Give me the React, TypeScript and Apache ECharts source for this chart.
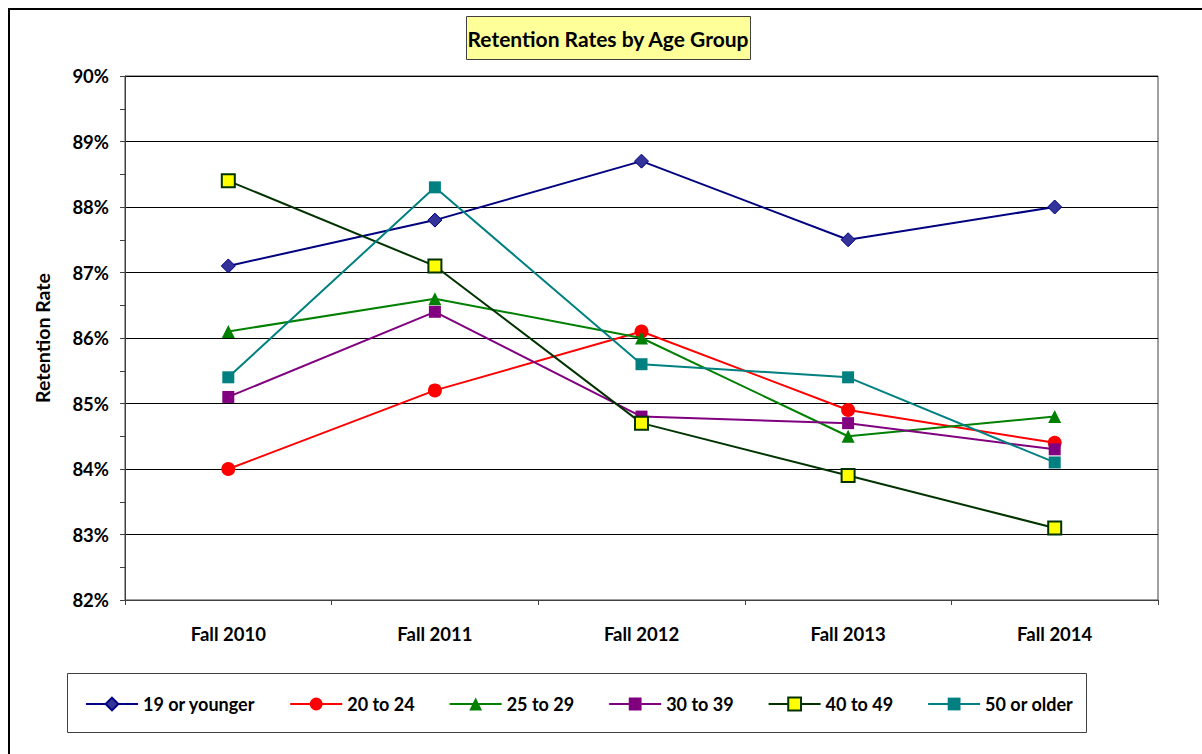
import React, { useEffect, useRef } from "react";
import * as echarts from "echarts";

const categories = ["Fall 2010", "Fall 2011", "Fall 2012", "Fall 2013", "Fall 2014"];
const seriesNames = ["19 or younger", "20 to 24", "25 to 29", "30 to 39", "40 to 49", "50 or older"];
const age19OrYounger = [87.1, 87.8, 88.7, 87.5, 88.0];
const age20to24 = [84.0, 85.2, 86.1, 84.9, 84.4];
const age25to29 = [86.1, 86.6, 86.0, 84.5, 84.8];
const age30to39 = [85.1, 86.4, 84.8, 84.7, 84.3];
const age40to49 = [88.4, 87.1, 84.7, 83.9, 83.1];
const age50OrOlder = [85.4, 88.3, 85.6, 85.4, 84.1];
const yTicks = { min: 82, max: 90, interval: 1 };

const FONT = "Lato, 'Open Sans', sans-serif";

export default function App() {
  const ref = useRef<HTMLDivElement>(null);
  useEffect(() => {
    if (!ref.current) return;
    const chart = echarts.init(ref.current, undefined, { renderer: "svg" });
    const styles = [
      { data: age19OrYounger, line: "#000080", symbol: "diamond", size: 14, fill: "#333399", border: "#000080", bw: 1 },
      { data: age20to24, line: "#ff0000", symbol: "circle", size: 14, fill: "#ff0000", border: "#ff0000", bw: 0 },
      { data: age25to29, line: "#008000", symbol: "triangle", size: 13, fill: "#008000", border: "#008000", bw: 0 },
      { data: age30to39, line: "#800080", symbol: "rect", size: 12, fill: "#800080", border: "#800080", bw: 0 },
      { data: age40to49, line: "#003300", symbol: "rect", size: 13, fill: "#ffff00", border: "#003300", bw: 2 },
      { data: age50OrOlder, line: "#008080", symbol: "rect", size: 12, fill: "#008080", border: "#008080", bw: 0 },
    ];
    chart.setOption({
      animation: false,
      backgroundColor: "#ffffff",
      textStyle: { fontFamily: FONT },
      graphic: [
        {
          type: "rect",
          shape: { x: 9, y: 9, width: 1300, height: 900 },
          style: { fill: "none", stroke: "#000", lineWidth: 2 },
          silent: true,
        },
        {
          type: "rect",
          shape: { x: 466.5, y: 16.5, width: 284, height: 43 },
          style: { fill: "#ffff99", stroke: "#404040", lineWidth: 1 },
          silent: true,
        },
        {
          type: "text",
          x: 608,
          y: 38,
          style: {
            text: "Retention Rates by Age Group",
            fill: "#000",
            font: `bold 21px ${FONT}`,
            align: "center",
            verticalAlign: "middle",
          },
          silent: true,
        },
        {
          type: "rect",
          shape: { x: 67.5, y: 673.5, width: 1019, height: 59 },
          style: { fill: "#fff", stroke: "#404040", lineWidth: 1 },
          silent: true,
          z: -1,
        },
      ],
      legend: {
        left: 85,
        top: 695,
        padding: 0,
        itemWidth: 52,
        itemHeight: 16,
        itemGap: 34,
        data: seriesNames,
        textStyle: { fontFamily: FONT, fontWeight: "bold", fontSize: 18, color: "#000" },
      },
      grid: {
        left: 125,
        top: 76,
        right: 44,
        bottom: 154,
        show: true,
        borderColor: "#404040",
        borderWidth: 1,
      },
      xAxis: {
        type: "category",
        data: categories,
        boundaryGap: true,
        axisLine: { lineStyle: { color: "#404040", width: 1 } },
        axisTick: { show: true, length: 5, lineStyle: { color: "#404040" } },
        axisLabel: { color: "#000", fontWeight: "bold", fontSize: 18.5, margin: 24, fontFamily: FONT },
      },
      yAxis: {
        type: "value",
        min: yTicks.min,
        max: yTicks.max,
        interval: yTicks.interval,
        name: "Retention Rate",
        nameLocation: "middle",
        nameGap: 73,
        nameRotate: 90,
        nameTextStyle: { color: "#000", fontWeight: "bold", fontSize: 19.5, fontFamily: FONT },
        axisLine: { show: true, lineStyle: { color: "#404040", width: 1 } },
        axisTick: { show: true, length: 5, lineStyle: { color: "#404040" } },
        minorTick: { show: true, splitNumber: 2, length: 5, lineStyle: { color: "#404040" } },
        splitLine: { show: true, lineStyle: { color: "#000", width: 1 } },
        axisLabel: {
          color: "#000",
          fontWeight: "bold",
          fontSize: 18.5,
          margin: 16,
          fontFamily: FONT,
          formatter: (v: number) => `${v}%`,
        },
      },
      series: styles.map((s, i) => ({
        name: seriesNames[i],
        type: "line",
        data: s.data,
        symbol: s.symbol,
        symbolSize: s.size,
        showAllSymbol: true,
        lineStyle: { color: s.line, width: 2 },
        itemStyle: { color: s.fill, borderColor: s.border, borderWidth: s.bw },
        z: 2 + i,
      })),
    });
    return () => chart.dispose();
  }, []);
  return (
    <div
      ref={ref}
      style={{ position: "fixed", left: 0, top: 0, width: 1202, height: 754 }}
    />
  );
}
